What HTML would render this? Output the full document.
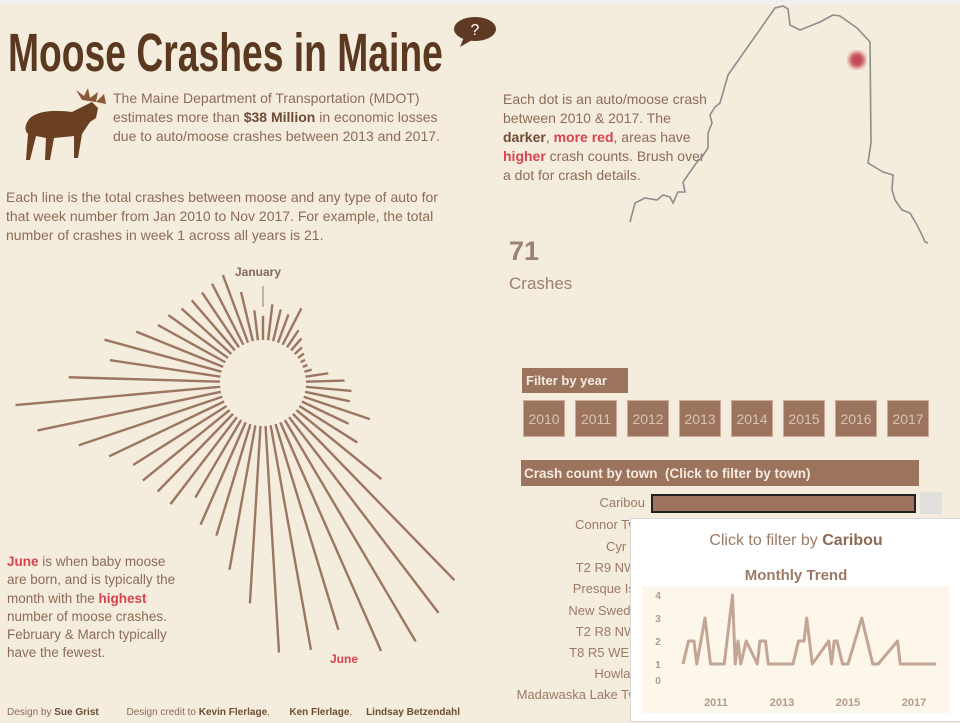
<!DOCTYPE html>
<html><head><meta charset="utf-8">
<style>
*{margin:0;padding:0;box-sizing:border-box}
body{width:960px;height:720px;overflow:hidden;background:#f4ecdd;font-family:"Liberation Sans",sans-serif;color:#8d6c57;position:relative}
.abs{position:absolute}
.p{font-size:14px;line-height:19px}
b{color:#6e4c36}
.red{color:#d9434f;font-weight:bold}
.yr{position:absolute;top:400px;width:42px;height:37px;background:#9c735c;border:1px solid #c9ac96;color:#d8c4b4;font-size:14px;text-align:center;line-height:37px}
.town{position:absolute;right:315px;font-size:13px;color:#9c7a66;text-align:right;white-space:nowrap}
</style></head><body>
<div class="abs" style="left:0;top:0;width:960px;height:5px;background:#efefef"></div>
<div class="abs" style="left:8px;top:22px;font-size:54px;font-weight:bold;color:#5b3820;white-space:nowrap;transform:scaleX(0.69);transform-origin:0 0">Moose Crashes in Maine</div>
<svg class="abs" style="left:452px;top:15px" width="48" height="34"><ellipse cx="23" cy="14" rx="21" ry="12" fill="#5e3a24"/><path d="M12 22 L8 32 L20 25Z" fill="#5e3a24"/><text x="23" y="20" fill="#fff" font-size="16" text-anchor="middle" font-family="Liberation Sans">?</text></svg>
<svg class="abs" style="left:12px;top:88px" width="95" height="75">
<path d="M18 30 Q30 20 60 24 L72 18 L80 14 L86 20 L84 30 L78 34 L74 40 L70 46 L66 70 L62 70 L62 48 L42 50 L38 72 L33 72 L34 50 L24 48 L18 72 L14 72 L16 46 Q10 40 18 30Z" fill="#6b3f22"/>
<path d="M70 12 L64 2 L72 8 L76 0 L78 10 L86 4 L84 14Z" fill="#8a5a36"/><path d="M84 14 L92 6 L94 16Z" fill="#8a5a36"/></svg>
<div class="abs p" style="left:113px;top:89px;width:335px">The Maine Department of Transportation (MDOT) estimates more than <b>$38 Million</b> in economic losses due to auto/moose crashes between 2013 and 2017.</div>
<div class="abs p" style="left:6px;top:188px;width:432px">Each line is the total crashes between moose and any type of auto for that week number from Jan 2010 to Nov 2017. For example, the total number of crashes in week 1 across all years is 21.</div>
<div class="abs p" style="left:503px;top:90px;width:208px">Each dot is an auto/moose crash between 2010 &amp; 2017. The <b>darker</b>, <span class="red">more red</span>, areas have <span class="red">higher</span> crash counts. Brush over a dot for crash details.</div>
<svg class="abs" style="left:0;top:0" width="960" height="260">
<defs><filter id="bl"><feGaussianBlur stdDeviation="2"/></filter></defs>
<polyline fill="none" stroke="#8e8e8e" stroke-width="1.6" points="630,222 635,203 645,198 657,200 663,195 670,197 673,203 678,192 685,192 683,182 690,172 697,162 702,157 708,148 708,133 712,123 710,115 715,107 720,103 728,75 775,8 783,6 788,9 790,25 800,30 820,22 833,15 840,16 857,28 870,42 871,143 868,163 883,172 893,175 892,190 895,200 902,210 910,213 917,225 922,235 925,242 928,243"/>
<circle cx="857" cy="60" r="8" fill="#c44a55" filter="url(#bl)"/></svg>
<div class="abs" style="left:509px;top:236px;font-size:27px;font-weight:bold;color:#9c8070">71</div>
<div class="abs" style="left:509px;top:274px;font-size:17px;color:#9c8070">Crashes</div>

<svg class="abs" id="radial" style="left:0;top:260px" width="480" height="420"></svg>
<div class="abs" style="left:235px;top:265px;font-size:12px;font-weight:bold;color:#7d6a5c">January</div>
<div class="abs" style="left:330px;top:652px;font-size:12px;font-weight:bold;color:#d9434f">June</div>
<div class="abs p" style="left:7px;top:553px;width:180px;font-size:13.5px;line-height:18.3px"><span class="red">June</span> is when baby moose are born, and is typically the month with the <span class="red">highest</span> number of moose crashes. February &amp; March typically have the fewest.</div>

<div class="abs" style="left:522px;top:368px;width:106px;height:25px;background:#9c735c;color:#f4ebe0;font-size:13px;font-weight:bold;padding:5px 4px">Filter by year</div>
<div class="yr" style="left:523px">2010</div>
<div class="yr" style="left:575px">2011</div>
<div class="yr" style="left:627px">2012</div>
<div class="yr" style="left:679px">2013</div>
<div class="yr" style="left:731px">2014</div>
<div class="yr" style="left:783px">2015</div>
<div class="yr" style="left:835px">2016</div>
<div class="yr" style="left:887px">2017</div>
<div class="abs" style="left:521px;top:460px;width:398px;height:26px;background:#9c735c;color:#f4ebe0;font-size:13.5px;font-weight:bold;padding:6px 3px">Crash count by town &nbsp;(Click to filter by town)</div>
<div class="town" style="top:495px">Caribou</div>
<div class="abs" style="left:651px;top:494px;width:265px;height:19px;background:#9c735c;border:2px solid #222"></div>
<div class="abs" style="left:920px;top:492px;width:22px;height:22px;background:#e2e0dc"></div>
<div class="town" style="top:517px">Connor Twp</div>
<div class="town" style="top:539px">Cyr Plt</div>
<div class="town" style="top:560px">T2 R9 NWP</div>
<div class="town" style="top:581px">Presque Isle</div>
<div class="town" style="top:603px">New Sweden</div>
<div class="town" style="top:624px">T2 R8 NWP</div>
<div class="town" style="top:645px">T8 R5 WELS</div>
<div class="town" style="top:666px">Howland</div>
<div class="town" style="top:687px">Madawaska Lake Twp</div>

<div class="abs" style="left:630px;top:518px;width:332px;height:204px;background:#fff;border:1px solid #d8d8d8">
<div class="abs" style="left:0;top:13px;width:330px;text-align:center;font-size:16px;color:#9c7a66">Click to filter by <b style="color:#8a6a55">Caribou</b></div>
<div class="abs" style="left:0;top:48px;width:330px;text-align:center;font-size:15px;font-weight:bold;color:#9c7a66">Monthly Trend</div>
<svg class="abs" id="trend" style="left:0;top:0" width="330" height="204"></svg>
</div>

<div class="abs" style="left:7px;top:707px;font-size:10px;color:#8d6c57;white-space:nowrap">Design by <b>Sue Grist</b> &nbsp;&nbsp;&nbsp;&nbsp;&nbsp;&nbsp;&nbsp;&nbsp;&nbsp;Design credit to <b>Kevin Flerlage</b>, &nbsp;&nbsp;&nbsp;&nbsp;&nbsp;&nbsp;<b>Ken Flerlage</b>, &nbsp;&nbsp;&nbsp;&nbsp;<b>Lindsay Betzendahl</b></div>

<script>
const weeks=[1,2,3,4,5,6,7,8,9,10,11,12,13,14,15,16,17,18,19,20,21,22,23,24,25,26,27,28,29,30,31,32,33,34,35,36,37,38,39,40,41,42,43,44,45,46,47,48,49,50,51,52,53];
const weekCrashes=[21,31,28,26,35,18,14,9,7,5,5,7,20,33,39,39,59,44,58,92,194,206,215,209,180,191,190,149,123,98,94,76,92,91,94,93,107,127,157,172,127,94,102,79,65,62,57,56,56,58,61,43,26];
const trendMonths=[0,2,4,5,8,10,15,18,19,20,21,23,27,28,30,31,40,42,44,45,47,53,54,55,56,58,60,65,69,71,78,79,92];
const trendValues=[1,2,2,1,3,1,1,4,1,2,1,2,1,2,2,1,1,2,2,3,1,2,1,2,2,1,1,3,1,1,2,1,1];
const trendYTicks=[0,1,2,3,4];
const trendXTicks=[2011,2013,2015,2017];
const NS='http://www.w3.org/2000/svg';
function mk(t,a,p){const e=document.createElementNS(NS,t);for(const k in a)e.setAttribute(k,a[k]);p.appendChild(e);return e;}
const rs=document.getElementById('radial');
const cx=263,cy=123,r0=42,kPx=1.2;
const ang=w=>(w-1)/weeks.length*2*Math.PI;
const rad=v=>r0+v*kPx;
weeks.forEach((w,i)=>{
 const a=ang(w),s=Math.sin(a),c=-Math.cos(a);
 const l=mk('line',{x1:cx+s*(r0+1),y1:cy+c*(r0+1),x2:cx+s*rad(weekCrashes[i]),y2:cy+c*rad(weekCrashes[i]),stroke:'#9c7661','stroke-width':2.4},rs);
 
 
});
const jl=mk('line',{x1:cx,y1:26,x2:cx,y2:47,stroke:'#8d7a6c','stroke-width':1},rs);


const ts=document.getElementById('trend');
const bg=mk('rect',{x:11,y:67,width:307,height:127,fill:'#fdf6ea'},ts);


const x0=52,pxPerMonth=33/12;
const tx=m=>x0+m*pxPerMonth;
const ty=v=>168-v*23;
const tyLabel=v=>v===0?161:ty(v);
trendYTicks.forEach(v=>{const t=mk('text',{x:27,y:tyLabel(v)+4,'font-size':10,'font-weight':'bold',fill:'#b49a88','text-anchor':'middle','font-family':'Liberation Sans'},ts);t.textContent=v;
 
 });
trendXTicks.forEach(y=>{const t=mk('text',{x:tx((y-2010)*12),y:187,'font-size':11,'font-weight':'bold',fill:'#b49a88','text-anchor':'middle','font-family':'Liberation Sans'},ts);t.textContent=y;
 
 });
const pl=mk('polyline',{points:trendMonths.map((m,i)=>tx(m)+','+ty(trendValues[i])).join(' '),fill:'none',stroke:'#c2a594','stroke-width':3,'stroke-linejoin':'round'},ts);


</script>
</body></html>
